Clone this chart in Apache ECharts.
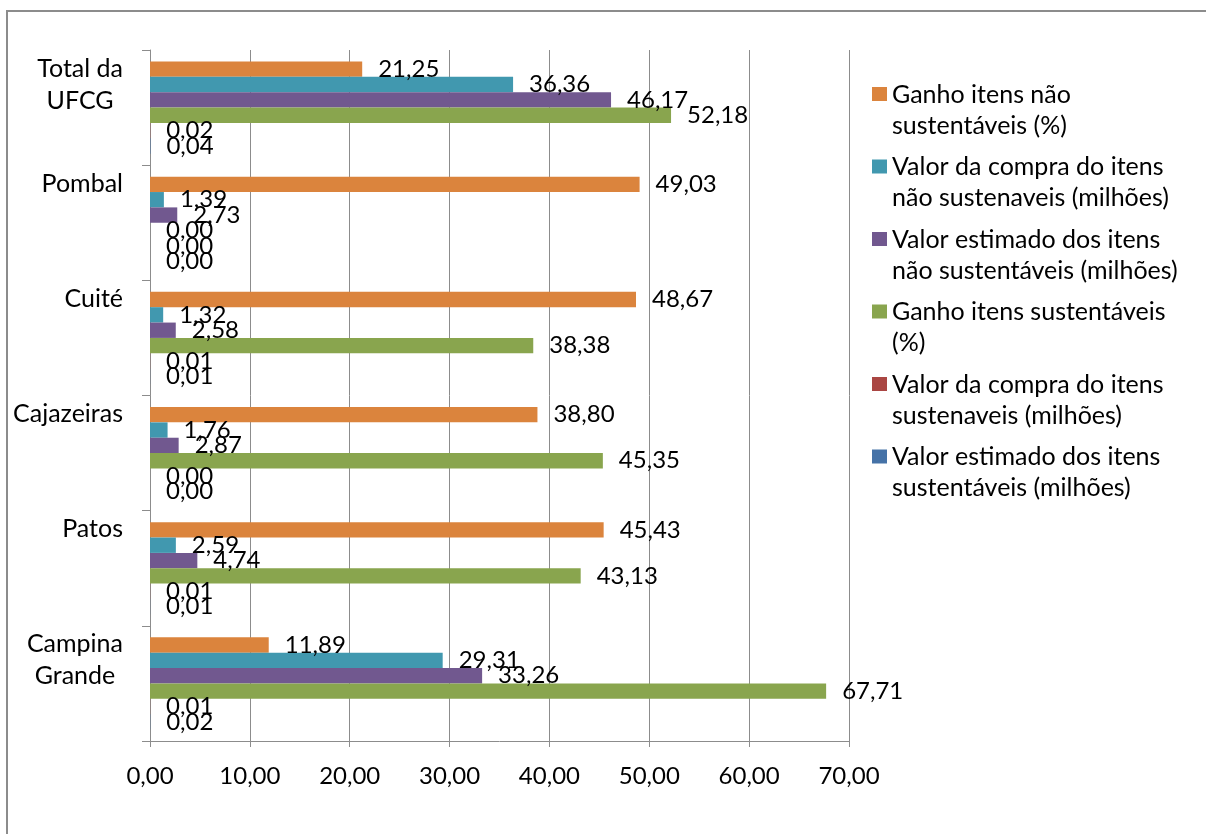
<!DOCTYPE html>
<html>
<head>
<meta charset="utf-8">
<title>Ganho itens sustentáveis x não sustentáveis</title>
<script src="https://cdn.jsdelivr.net/npm/echarts@6/dist/echarts.min.js"></script>
<style>
  html, body { margin: 0; padding: 0; background: #fff; }
  #chart { width: 1206px; height: 834px; }
</style>
</head>
<body>
<div id="chart"></div>
<script>
// categorias (de baixo para cima, como no eixo)
const campi = ['Campina\nGrande', 'Patos', 'Cajazeiras', 'Cuité', 'Pombal', 'Total da\nUFCG']

// valores de cada série, mesma ordem dos campi
const ganhoNaoSust = [11.89, 45.43, 38.80, 48.67, 49.03, 21.25]
const compraNaoSust = [29.31, 2.59, 1.76, 1.32, 1.39, 36.36]
const estimadoNaoSust = [33.26, 4.74, 2.87, 2.58, 2.73, 46.17]
const ganhoSust = [67.71, 43.13, 45.35, 38.38, 0.00, 52.18]
const compraSust = [0.01, 0.01, 0.00, 0.01, 0.00, 0.02]
const estimadoSust = [0.02, 0.01, 0.00, 0.01, 0.00, 0.04]

// nomes das séries (quebrados como na legenda original)
const nomes = [
  'Ganho itens não\nsustentáveis (%)',
  'Valor da compra do itens\nnão sustenaveis (milhões)',
  'Valor estimado dos itens\nnão sustentáveis (milhões)',
  'Ganho itens sustentáveis\n(%)',
  'Valor da compra do itens\nsustenaveis (milhões)',
  'Valor estimado dos itens\nsustentáveis (milhões)'
]
const cores = ['#DB843D', '#4198AF', '#71588F', '#89A54E', '#AA4643', '#4572A7']

// eixo x
const xMin = 0
const xMax = 70
const xStep = 10

const fonte = 'Lato, "Open Sans", sans-serif'
const cinza = '#8c8c8c'

// número no formato brasileiro
function fmt(v) {
  return Number(v).toFixed(2).replace('.', ',')
}

const valores = [ganhoNaoSust, compraNaoSust, estimadoNaoSust, ganhoSust, compraSust, estimadoSust]

let myChart = echarts.init(document.getElementById('chart'))
myChart.setOption({
  backgroundColor: '#fff',
  animation: false,
  textStyle: { fontFamily: fonte },
  // moldura do gráfico
  graphic: [
    {
      type: 'rect',
      shape: { x: 7, y: 11, width: 1400, height: 1000 },
      style: { fill: 'none', stroke: cinza, lineWidth: 2 },
      silent: true
    }
  ],
  grid: {
    left: 150,
    top: 50,
    width: 699,
    height: 691
  },
  legend: {
    orient: 'vertical',
    left: 867,
    top: 74,
    itemWidth: 15,
    itemHeight: 62,
    itemGap: 10.5,
    // quadradinho alinhado com a primeira linha do texto
    icon: 'path://M0,0M0,8h15v14h-15zM0,62',
    textStyle: {
      fontFamily: fonte,
      fontSize: 25,
      lineHeight: 31,
      color: '#000'
    },
    data: nomes
  },
  xAxis: {
    type: 'value',
    min: xMin,
    max: xMax,
    interval: xStep,
    axisLine: { show: true, lineStyle: { color: cinza } },
    axisTick: { show: true, length: 6, lineStyle: { color: cinza } },
    splitLine: { show: true, lineStyle: { color: cinza } },
    axisLabel: {
      margin: 23,
      fontSize: 24,
      fontFamily: fonte,
      color: '#000',
      formatter: fmt
    }
  },
  yAxis: {
    type: 'category',
    data: campi,
    axisLine: { show: true, lineStyle: { color: cinza } },
    axisTick: { show: true, length: 8, lineStyle: { color: cinza } },
    splitLine: { show: false },
    axisLabel: {
      interval: 0,
      margin: 27,
      padding: [0, 0, 46, 0],
      // todas com duas linhas, centralizadas entre si
      formatter: function (v) {
        let linhas = v.split('\n')
        if (linhas.length < 2) linhas.push(' ')
        return linhas.map(l => '{c|' + l + '}').join('\n')
      },
      rich: {
        c: {
          align: 'center',
          fontSize: 25,
          lineHeight: 32,
          fontFamily: fonte,
          color: '#000'
        }
      }
    }
  },
  series: nomes.map((nome, i) => ({
    name: nome,
    type: 'bar',
    data: valores[i],
    barGap: '0%',
    barCategoryGap: '20%',
    itemStyle: { color: cores[i] },
    label: {
      show: true,
      position: 'right',
      distance: 16,
      fontSize: 24,
      fontFamily: fonte,
      color: '#000',
      formatter: p => fmt(p.value)
    }
  }))
})
</script>
</body>
</html>
